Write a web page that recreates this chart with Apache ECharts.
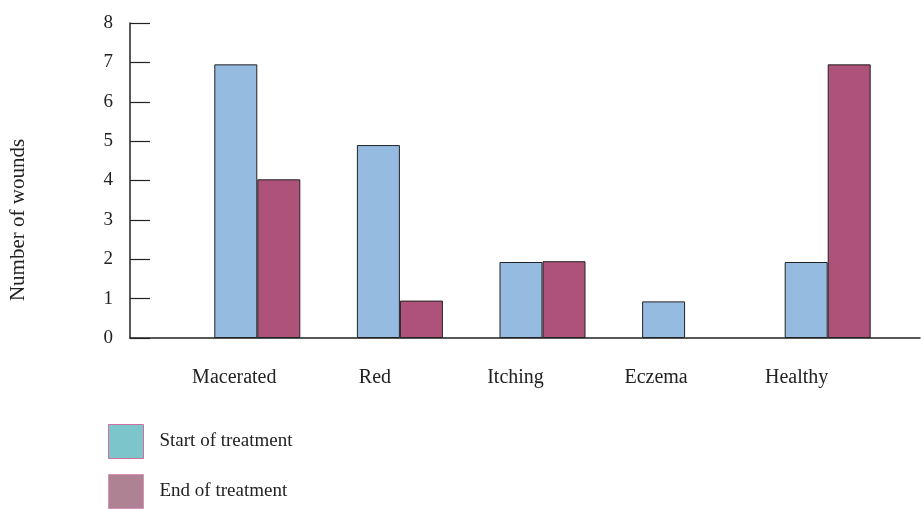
<!DOCTYPE html>
<html>
<head>
<meta charset="utf-8">
<script src="https://cdn.jsdelivr.net/npm/echarts@6/dist/echarts.min.js"></script>
<style>
html,body{margin:0;padding:0;background:#fff;}
#c{width:921px;height:509px;}
</style>
</head>
<body>
<div id="c"></div>
<script>
var categories = ['Macerated', 'Red', 'Itching', 'Eczema', 'Healthy'];
var startValues = [6.95, 4.9, 1.93, 0.93, 1.93];
var endValues = [4.03, 0.95, 1.95, null, 6.95];
var seriesNames = ['Start of treatment', 'End of treatment'];
var yTicks = [0, 8, 1];

var FONT = 'Liberation Serif';
var chart = echarts.init(document.getElementById('c'), null, {renderer: 'canvas'});

var hiddenY = function (gi) {
  return {type: 'value', gridIndex: gi, min: yTicks[0], max: yTicks[1], interval: yTicks[2], show: false};
};

chart.setOption({
  backgroundColor: '#fff',
  animation: false,
  grid: [
    {left: 130, right: 1, top: 23, bottom: 171},
    {left: 186, right: 22, top: 23, bottom: 171},
    {left: 164, right: 54, top: 23, bottom: 171}
  ],
  xAxis: [
    {type: 'category', gridIndex: 0, data: categories,
      axisLine: {lineStyle: {color: '#222', width: 1.5}},
      axisTick: {show: false}, axisLabel: {show: false}},
    {type: 'category', gridIndex: 1, data: categories, show: false},
    {type: 'category', gridIndex: 2, data: categories,
      axisLine: {show: false}, axisTick: {show: false},
      axisLabel: {margin: 30, fontFamily: FONT, fontSize: 20, color: '#222'}}
  ],
  yAxis: [
    {type: 'value', gridIndex: 0, min: yTicks[0], max: yTicks[1], interval: yTicks[2],
      axisLine: {show: true, lineStyle: {color: '#222', width: 1.5}},
      axisTick: {show: true, inside: true, length: 20, lineStyle: {color: '#222', width: 1.2}},
      splitLine: {show: false},
      axisLabel: {margin: 17, fontFamily: FONT, fontSize: 19, color: '#222'}},
    hiddenY(1),
    hiddenY(2)
  ],
  legend: {
    orient: 'vertical', left: 108, top: 424, padding: 0,
    itemWidth: 35, itemHeight: 34, itemGap: 15,
    textStyle: {fontFamily: FONT, fontSize: 19, color: '#222', padding: [8, 0, 0, 11]},
    data: [
      {name: seriesNames[0], icon: 'rect', itemStyle: {color: '#7CC5CB', borderColor: '#D070A0', borderWidth: 1}},
      {name: seriesNames[1], icon: 'rect', itemStyle: {color: '#AE8193', borderColor: '#D590B5', borderWidth: 1}}
    ]
  },
  graphic: [{
    type: 'text', x: 18, y: 220, rotation: Math.PI / 2,
    style: {text: 'Number of wounds', font: '21px "' + FONT + '"', fill: '#222',
      textAlign: 'center', textVerticalAlign: 'middle'}
  }],
  series: [
    {name: seriesNames[0], type: 'bar', xAxisIndex: 1, yAxisIndex: 1, data: startValues,
      barWidth: 43, barGap: '0%',
      itemStyle: {color: '#95BBE0', borderColor: '#222', borderWidth: 1}},
    {name: seriesNames[1], type: 'bar', xAxisIndex: 1, yAxisIndex: 1, data: endValues,
      barWidth: 43, barGap: '0%',
      itemStyle: {color: '#AE5279', borderColor: '#222', borderWidth: 1}}
  ]
});
</script>
</body>
</html>
